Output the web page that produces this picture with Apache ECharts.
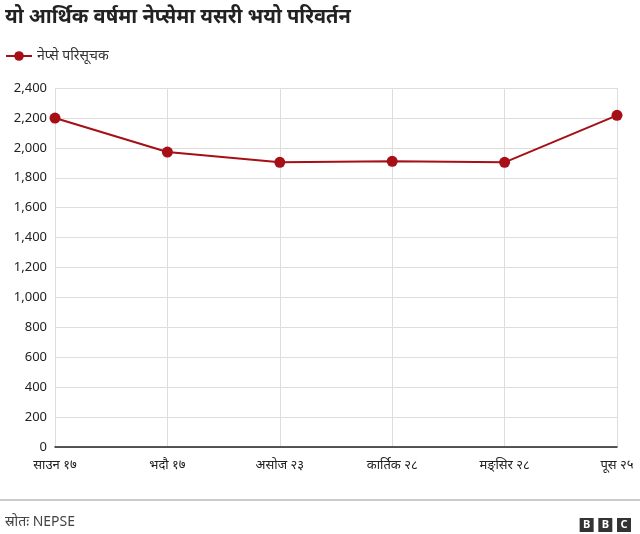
<!DOCTYPE html>
<html><head><meta charset="utf-8">
<script src="https://cdn.jsdelivr.net/npm/echarts@6/dist/echarts.min.js"></script>
<style>html,body{margin:0;padding:0;background:#fff}#c{width:640px;height:534px}</style>
</head><body><div id="c"></div>
<script>
const categories = ['साउन १७','भदौ १७','असोज २३','कार्तिक २८','मङ्सिर २८','पूस २५'];
const values = [2199, 1972, 1903, 1910, 1903, 2217];
const seriesName = 'नेप्से परिसूचक';
const chart = echarts.init(document.getElementById('c'));
chart.setOption({
  animation:false,
  textStyle:{fontFamily:'Noto Sans, sans-serif'},
  title:[{text:'यो आर्थिक वर्षमा नेप्सेमा यसरी भयो परिवर्तन',left:0,top:2,textStyle:{fontSize:20,fontWeight:'bold',color:'#222'}},
         {text:'स्रोतः NEPSE',left:0,top:510,textStyle:{fontSize:14,fontWeight:'normal',color:'#444'}},
         {text:'{b|B} {b|B} {b|C}',right:4,top:511,textStyle:{rich:{b:{backgroundColor:'#333',color:'#fff',fontSize:11,fontWeight:'bold',width:14,height:14,align:'center',lineHeight:14}}}}],
  legend:{left:0,top:44,itemWidth:26,itemHeight:12,textStyle:{fontSize:14,color:'#333'},data:[seriesName]},
  grid:{left:55,right:23,top:88,bottom:87},
  xAxis:{type:'category',data:categories,boundaryGap:false,
    axisLine:{lineStyle:{color:'#222',width:1.5}},axisTick:{show:false},
    axisLabel:{color:'#222',fontSize:13,margin:12},
    splitLine:{show:true,lineStyle:{color:'#ddd'}}},
  yAxis:{type:'value',min:0,max:2400,interval:200,
    axisLabel:{color:'#222',fontSize:13,formatter:v=>v.toLocaleString('en-US')},
    axisLine:{show:false},axisTick:{show:false},splitLine:{lineStyle:{color:'#ddd'}}},
  series:[{name:seriesName,type:'line',data:values,symbol:'circle',symbolSize:11,
    lineStyle:{color:'#a50f15',width:2},itemStyle:{color:'#a50f15'}}],
  graphic:[{type:'line',shape:{x1:0,y1:500,x2:640,y2:500},style:{stroke:'#999',lineWidth:1}}]
});
</script></body></html>
